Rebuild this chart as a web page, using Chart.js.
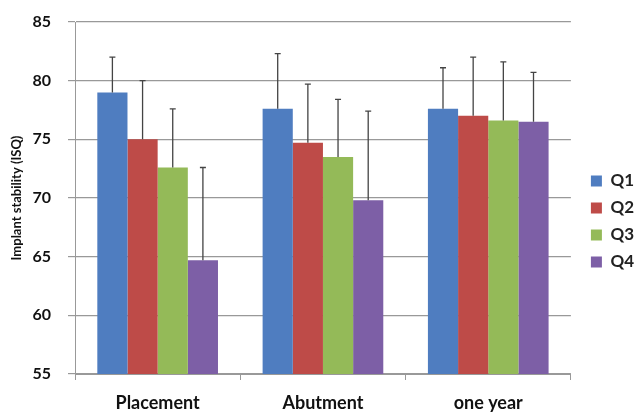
<!DOCTYPE html>
<html>
<head>
<meta charset="utf-8">
<script src="https://cdn.jsdelivr.net/npm/chart.js@4"></script>
<style>
  html, body { margin: 0; padding: 0; background: #fff; }
  #wrap { width: 634px; height: 413px; }
</style>
</head>
<body>
<div id="wrap"><canvas id="c"></canvas></div>
<script>
const categories = ["Placement", "Abutment", "one year"];
const seriesNames = ["Q1", "Q2", "Q3", "Q4"];
const q1 = [79.0, 77.6, 77.6];
const q2 = [75.0, 74.7, 77.0];
const q3 = [72.6, 73.5, 76.6];
const q4 = [64.7, 69.8, 76.5];
// upper error (SD) for each bar
const q1Err = [3.0, 4.7, 3.5];
const q2Err = [5.0, 5.0, 5.0];
const q3Err = [5.0, 4.9, 5.0];
const q4Err = [7.9, 7.6, 4.2];
const yTicks = [55, 60, 65, 70, 75, 80, 85];

const colors = ["#4F7DC0", "#BE4B48", "#94BA58", "#7D5FA6"];
const values = [q1, q2, q3, q4];
const errors = [q1Err, q2Err, q3Err, q4Err];

// draws the upward error whiskers
const errorBars = {
  id: "errorBars",
  afterDatasetsDraw(chart) {
    const ctx = chart.ctx;
    const y = chart.scales.y;
    ctx.save();
    ctx.strokeStyle = "#444";
    ctx.lineWidth = 1.3;
    chart.data.datasets.forEach((ds, i) => {
      const meta = chart.getDatasetMeta(i);
      meta.data.forEach((bar, j) => {
        const top = y.getPixelForValue(ds.data[j] + ds.err[j]);
        ctx.beginPath();
        ctx.moveTo(bar.x, bar.y);
        ctx.lineTo(bar.x, top);
        ctx.moveTo(bar.x - 3, top);
        ctx.lineTo(bar.x + 3, top);
        ctx.stroke();
      });
    });
    ctx.restore();
  }
};

// nudge the legend a bit away from the plot
const legendShift = {
  id: "legendShift",
  afterLayout(chart) {
    chart.legend.left += 10;
    chart.legend.right += 10;
    chart.legend.top += 4;
    chart.legend.bottom += 4;
  }
};

new Chart(document.getElementById("c"), {
  type: "bar",
  data: {
    labels: categories,
    datasets: seriesNames.map((name, i) => ({
      label: name,
      data: values[i],
      err: errors[i],
      backgroundColor: colors[i],
      borderWidth: 0,
      categoryPercentage: 0.73,
      barPercentage: 1.0,
    })),
  },
  options: {
    responsive: true,
    maintainAspectRatio: false,
    animation: false,
    layout: { padding: { top: 22, right: 0, left: 9, bottom: 0 } },
    plugins: {
      legend: {
        position: "right",
        labels: {
          boxWidth: 11,
          boxHeight: 11,
          padding: 10,
          color: "#222",
          font: { family: "Lato", weight: "bold", size: 17 },
        },
      },
      tooltip: { enabled: false },
    },
    scales: {
      x: {
        afterFit(axis) {
          axis.height = 39;
        },
        grid: {
          display: true,
          drawOnChartArea: false,
          offset: true,
          tickLength: 6,
          color: "#999",
        },
        border: { color: "#999" },
        ticks: {
          color: "#111",
          padding: 12,
          font: { family: "Lato", weight: "bold", size: 18 },
        },
      },
      y: {
        min: 55,
        max: 85,
        afterBuildTicks(axis) {
          axis.ticks = yTicks.map(v => ({ value: v }));
        },
        afterFit(axis) {
          axis.width = 66;
          axis.paddingTop = 0;
          axis.paddingBottom = 0;
        },
        grid: { color: "#999", tickLength: 7, lineWidth: 1.2 },
        border: { color: "#999" },
        ticks: {
          color: "#111",
          padding: 17,
          font: { family: "Lato", weight: "bold", size: 16 },
        },
        title: {
          display: true,
          text: "Implant stability (ISQ)",
          color: "#111",
          padding: { top: 0, bottom: 6 },
          font: { family: "Lato", weight: "bold", size: 13 },
        },
      },
    },
  },
  plugins: [errorBars, legendShift],
});
</script>
</body>
</html>
